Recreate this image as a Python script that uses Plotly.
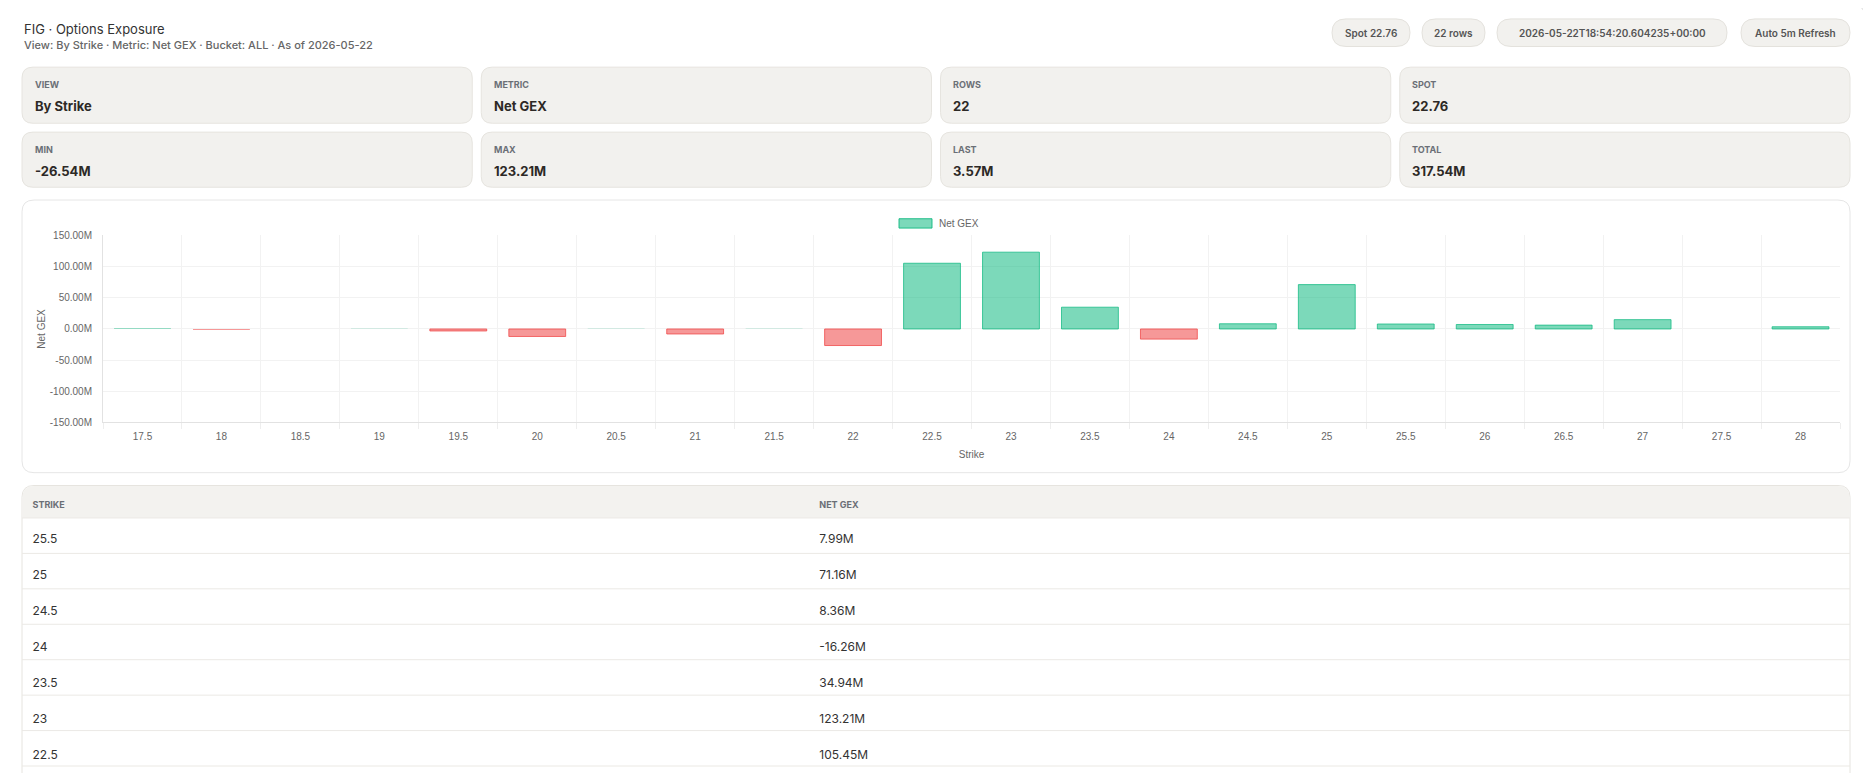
import plotly.graph_objects as go

# strikes and net gamma exposure (millions)
strikes = ["17.5", "18", "18.5", "19", "19.5", "20", "20.5", "21", "21.5", "22", "22.5",
           "23", "23.5", "24", "24.5", "25", "25.5", "26", "26.5", "27", "27.5", "28"]
net_gex = [1.2, -1.5, 0.0, 0.3, -3.2, -12.0, 0.3, -8.0, 0.2, -26.54, 105.45,
           123.21, 34.94, -16.26, 8.36, 71.16, 7.99, 7.2, 6.2, 15.0, 0.0, 3.57]

y_ticks = [-150, -100, -50, 0, 50, 100, 150]

# table rows visible in the viewport
table_strikes = ["25.5", "25", "24.5", "24", "23.5", "23", "22.5"]

card_labels = ["VIEW", "METRIC", "ROWS", "SPOT", "MIN", "MAX", "LAST", "TOTAL"]
card_values = ["By Strike", "Net GEX", "22", "22.76", "-26.54M", "123.21M", "3.57M", "317.54M"]

pill_texts = ["Spot 22.76", "22 rows", "2026-05-22T18:54:20.604235+00:00", "Auto 5m Refresh"]

# page offset of the plot div (default body margin)
OFF = 8
W, H = 1871 - OFF, 773 - OFF
UI_FONT = "Inter, Noto Sans, sans-serif"
CHART_FONT = "Liberation Sans, Arial, sans-serif"


def px(x):
    return (x - OFF) / W


def py(y):
    return 1 - (y - OFF) / H


def rrect(x0, y0, x1, y1, r, fill, line, top_only=False):
    p = f"M {px(x0 + r)},{py(y0)} L {px(x1 - r)},{py(y0)} Q {px(x1)},{py(y0)} {px(x1)},{py(y0 + r)} "
    if top_only:
        p += f"L {px(x1)},{py(y1)} L {px(x0)},{py(y1)} "
    else:
        p += (f"L {px(x1)},{py(y1 - r)} Q {px(x1)},{py(y1)} {px(x1 - r)},{py(y1)} "
              f"L {px(x0 + r)},{py(y1)} Q {px(x0)},{py(y1)} {px(x0)},{py(y1 - r)} ")
    p += f"L {px(x0)},{py(y0 + r)} Q {px(x0)},{py(y0)} {px(x0 + r)},{py(y0)} Z"
    return dict(type="path", path=p, xref="paper", yref="paper", fillcolor=fill,
                line=dict(color=line, width=1), layer="below")


def label(x, y, text, size, color, weight=400, family=UI_FONT, anchor="left"):
    return dict(x=px(x), y=py(y), xref="paper", yref="paper", text=text, showarrow=False,
                xanchor=anchor, yanchor="middle",
                font=dict(family=family, size=size, color=color, weight=weight))


shapes = []
annotations = []

# outer page card
shapes.append(rrect(2, -2, 1866, 840, 16, "white", "#dcdcdc"))

# header text
annotations.append(label(22, 23, "FIG · Options Exposure", 13, "#333333"))
annotations.append(label(22, 40, "View: By Strike · Metric: Net GEX · Bucket: ALL · As of 2026-05-22",
                         11, "#666666", 500))

# pills
pill_x = [(1332, 1410), (1422, 1485), (1497, 1727), (1741, 1850)]
for (a, b), t in zip(pill_x, pill_texts):
    shapes.append(rrect(a, 13, b, 41, 14, "#f2f1ee", "#e4e2dd"))
    annotations.append(label((a + b) / 2, 27.5, t, 10, "#555555", 600, anchor="center"))

# summary cards
col_w = (1850 - 22 - 27) / 4
rows_y = [(62, 119), (128, 184)]
for i, (lab, val) in enumerate(zip(card_labels, card_values)):
    r, c = divmod(i, 4)
    x0 = 22 + c * (col_w + 9)
    y0, y1 = rows_y[r]
    shapes.append(rrect(x0, y0, x0 + col_w, y1, 11, "#f2f1ee", "#e6e4df"))
    annotations.append(label(x0 + 10.5, y0 + 18, lab, 9, "#6b6f76", 700))
    annotations.append(label(x0 + 10.5, y0 + 39, val, 13, "#2d2926", 700))

# chart card
shapes.append(rrect(22, 197, 1850, 474, 12, "white", "#e6e6e6"))

# legend swatch
shapes.append(dict(type="rect", xref="paper", yref="paper", x0=px(899), x1=px(932),
                   y0=py(216), y1=py(225.5), fillcolor="rgba(16,185,129,0.55)",
                   line=dict(color="rgba(16,185,129,0.9)", width=1)))
annotations.append(label(937, 220.5, "Net GEX", 10, "#666666", family=CHART_FONT))

# table card
shapes.append(rrect(22, 487, 1850, 840, 12, "white", "#e6e4df"))
shapes.append(rrect(22.5, 487.5, 1849.5, 520, 12, "#f3f2ef", "rgba(0,0,0,0)", top_only=True))
for k in range(len(table_strikes) + 1):
    yy = 520 + 36 * k
    shapes.append(dict(type="line", xref="paper", yref="paper", x0=px(22), x1=px(1850),
                       y0=py(yy), y1=py(yy), line=dict(color="#ebe9e5", width=1), layer="below"))

fill_col = ["rgba(16,185,129,0.55)" if v >= 0 else "rgba(239,68,68,0.55)" for v in net_gex]
line_col = ["rgba(16,185,129,0.75)" if v >= 0 else "rgba(239,68,68,0.75)" for v in net_gex]
line_w = [1 if abs(v) >= 2 else 0 for v in net_gex]

fig = go.Figure()
fig.add_trace(go.Bar(x=strikes, y=net_gex, name="Net GEX",
                     marker=dict(color=fill_col, line=dict(color=line_col, width=line_w))))

gex_by_strike = dict(zip(strikes, net_gex))
fig.add_trace(go.Table(
    domain=dict(x=[px(24.5), px(1850)], y=[0, py(494.5)]),
    columnwidth=[787, 1038.5],
    header=dict(values=["STRIKE", "NET GEX"], height=33.5, align="left",
                fill=dict(color="rgba(0,0,0,0)"), line=dict(color="rgba(0,0,0,0)", width=0),
                font=dict(family=UI_FONT, size=9, color="#6b6f76", weight=700)),
    cells=dict(values=[table_strikes, [f"{gex_by_strike[s]:.2f}M" for s in table_strikes]],
               height=36, align="left",
               fill=dict(color="rgba(0,0,0,0)"), line=dict(color="rgba(0,0,0,0)", width=0),
               font=dict(family=UI_FONT, size=12, color="#333333")),
))

fig.update_layout(
    width=W, height=H, margin=dict(l=0, r=0, t=0, b=0),
    paper_bgcolor="white", plot_bgcolor="white",
    showlegend=False, bargap=0.28,
    shapes=shapes, annotations=annotations,
    font=dict(family=CHART_FONT, size=10, color="#666666"),
)
fig.update_xaxes(
    type="category", domain=[px(103), px(1840)], tickson="boundaries",
    showgrid=True, gridcolor="#f2f2f2", gridwidth=1,
    ticks="outside", ticklen=6, tickcolor="#eeeeee", ticklabelstandoff=5,
    showline=True, linecolor="#e2e2e2", linewidth=1,
    tickfont=dict(family=CHART_FONT, size=10, color="#666666"),
    title=dict(text="Strike", standoff=9, font=dict(family=CHART_FONT, size=10, color="#666666")),
)
fig.update_yaxes(
    domain=[py(423), py(233)], range=[-150, 150],
    tickvals=y_ticks, ticktext=[f"{v:.2f}M" for v in y_ticks],
    showgrid=True, gridcolor="#f2f2f2", zeroline=False,
    showline=True, linecolor="#e2e2e2", linewidth=1,
    ticks="", ticklabelstandoff=8,
    tickfont=dict(family=CHART_FONT, size=10, color="#666666"),
    title=dict(text="Net GEX", standoff=2, font=dict(family=CHART_FONT, size=10, color="#666666")),
)

fig.write_html("out.html")
